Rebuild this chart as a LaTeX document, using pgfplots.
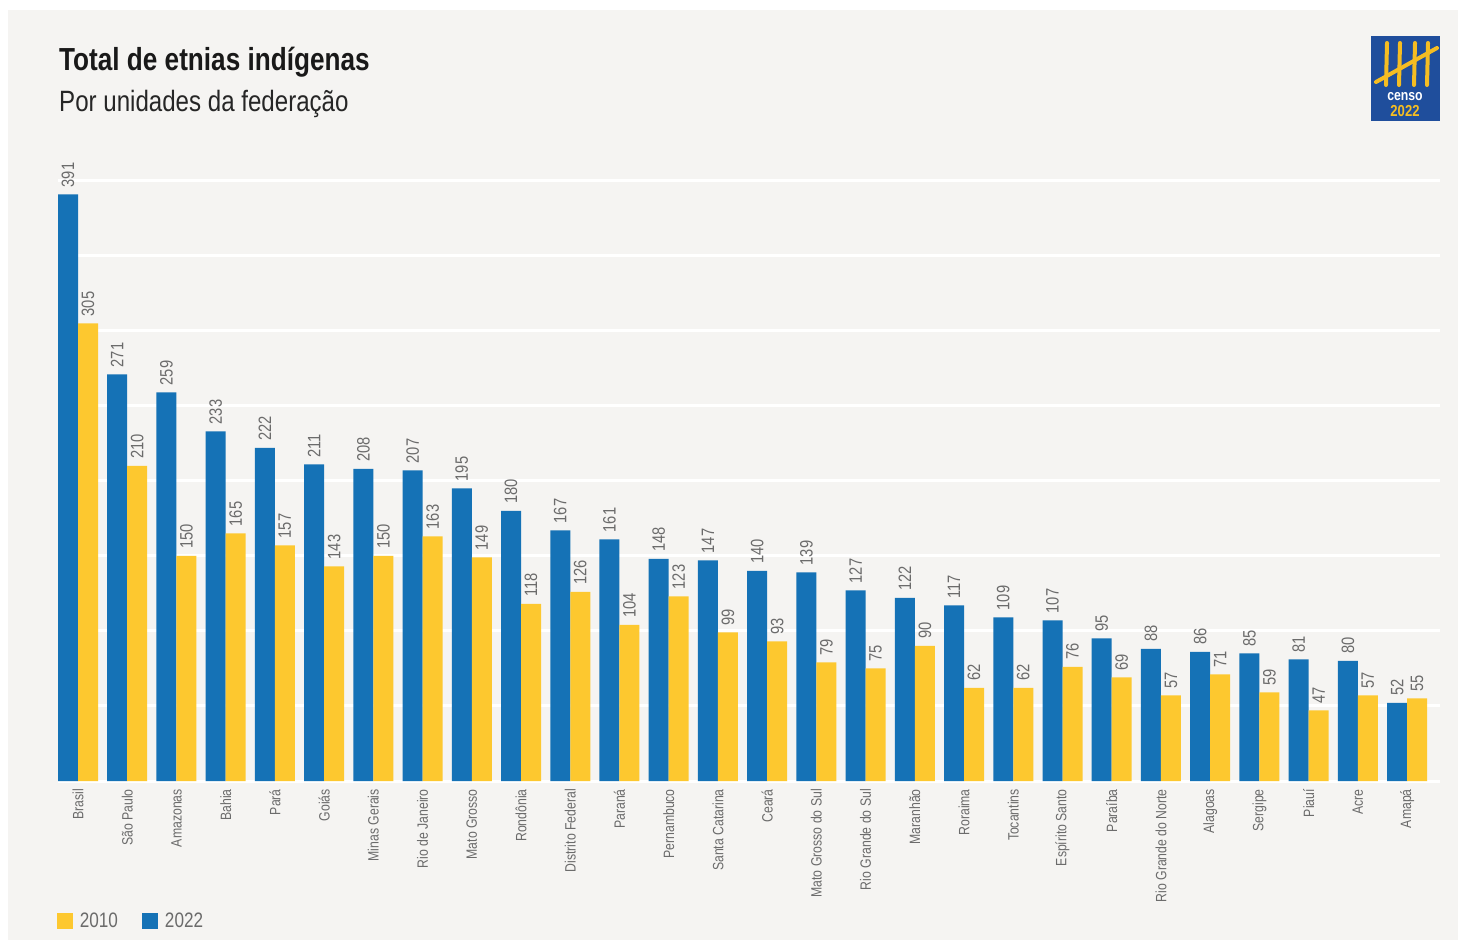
\documentclass[border=0pt]{standalone}
\usepackage{pgfplots}
\pgfplotsset{compat=1.18}
\usepackage{pgfplotstable}
\usepackage{fontspec}
\setmainfont{Liberation Sans}
\newfontfamily\cond{Liberation Sans}[FakeStretch=0.82]
\definecolor{panel}{HTML}{F5F4F2}
\definecolor{cblue}{HTML}{1572B6}
\definecolor{cyellow}{HTML}{FDC82F}
\definecolor{txtgray}{HTML}{6B6B6B}
\definecolor{logoblue}{HTML}{1F4E9C}
\definecolor{logoyellow}{HTML}{F5BD22}

\pgfplotstableread{
x a2022 a2010
0 391 305
1 271 210
2 259 150
3 233 165
4 222 157
5 211 143
6 208 150
7 207 163
8 195 149
9 180 118
10 167 126
11 161 104
12 148 123
13 147 99
14 140 93
15 139 79
16 127 75
17 122 90
18 117 62
19 109 62
20 107 76
21 95 69
22 88 57
23 86 71
24 85 59
25 81 47
26 80 57
27 52 55
}\data

\begin{document}
\begin{tikzpicture}[x=1bp,y=1bp]
\fill[white] (0,0) rectangle (1464,942);
\useasboundingbox (0,0) rectangle (1464,942);
\fill[panel] (8,2) rectangle (1458,932);

\node[anchor=base west, inner sep=0, text=black!90, font=\cond\bfseries\fontsize{32}{38}\selectfont] at (59,871) {Total de etnias indígenas};
\node[anchor=base west, inner sep=0, text=black!85, font=\cond\fontsize{29.5}{34}\selectfont] at (59,830) {Por unidades da federação};

% logo
\fill[logoblue] (1371,821) rectangle (1440,906);
\begin{scope}[logoyellow, line width=4bp, line cap=round]
\draw (1387,899) -- (1386,857);
\draw (1400,899) -- (1399,857);
\draw (1415,899) -- (1414,857);
\draw (1428,899) -- (1427,857);
\draw (1376,860) -- (1437,894);
\end{scope}
\node[text=white, font=\cond\bfseries\fontsize{15}{15}\selectfont, inner sep=0] at (1405,845) {censo};
\node[text=logoyellow, font=\cond\bfseries\fontsize{16}{16}\selectfont, inner sep=0] at (1405,831) {2022};

\begin{axis}[
  at={(58bp,161bp)}, anchor=south west,
  scale only axis, width=1382bp, height=600bp,
  xmin=-0.4065, xmax=27.67, ymin=0, ymax=400,
  clip=false,
  axis line style={draw=none},
  major tick length=0pt,
  ytick={0,50,...,400}, yticklabels={},
  ymajorgrids, grid style={white, line width=3bp},
  xtick={0,...,27},
  xticklabels={Brasil,São Paulo,Amazonas,Bahia,Pará,Goiás,Minas Gerais,Rio de Janeiro,Mato Grosso,Rondônia,Distrito Federal,Paraná,Pernambuco,Santa Catarina,Ceará,Mato Grosso do Sul,Rio Grande do Sul,Maranhão,Roraima,Tocantins,Espírito Santo,Paraíba,Rio Grande do Norte,Alagoas,Sergipe,Piauí,Acre,Amapá},
  xticklabel style={rotate=90, anchor=east, inner sep=0pt, xshift=-8bp, text=txtgray, font=\cond\fontsize{15}{15}\selectfont},
  ybar, bar width=20bp,
  point meta=explicit symbolic,
  nodes near coords,
  nodes near coords style={rotate=90, anchor=west, inner ysep=4bp, inner xsep=7bp, text=txtgray, font=\cond\fontsize{18}{18}\selectfont},
  legend columns=2, reverse legend,
  legend style={at={(-0.001,-0.233)}, anchor=west, draw=none, fill=none, inner sep=0pt,
    nodes={inner sep=0pt},
    font=\cond\fontsize{21}{21}\selectfont, text=txtgray,
    /tikz/every odd column/.append style={column sep=7bp},
    /tikz/every even column/.append style={column sep=24bp}},
  legend cell align=left,
]
\addplot[fill=cblue, draw=none, bar shift=-10bp,
  legend image code/.code={\fill[cblue] (0bp,-8bp) rectangle (16bp,8bp);}]
  table[x=x, y=a2022, meta=a2022] {\data};
\addlegendentry{2022}
\addplot[fill=cyellow, draw=none, bar shift=10bp,
  legend image code/.code={\fill[cyellow] (0bp,-8bp) rectangle (16bp,8bp);}]
  table[x=x, y=a2010, meta=a2010] {\data};
\addlegendentry{2010}
\end{axis}
\end{tikzpicture}
\end{document}
